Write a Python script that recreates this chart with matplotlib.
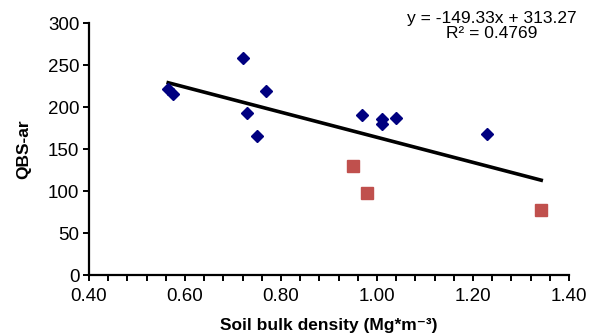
import matplotlib
matplotlib.use('Agg')
import matplotlib.pyplot as plt
import numpy as np
from matplotlib.ticker import MultipleLocator

plt.rcParams['font.family'] = ['Liberation Sans', 'DejaVu Sans']

# QBS-ar against soil bulk density
blue_x = [0.565, 0.576, 0.72, 0.769, 0.73, 0.749, 0.969, 1.01, 1.01, 1.04, 1.229]
blue_y = [221, 216, 258, 219, 193, 166, 190, 186, 180, 187, 168]
red_x = [0.95, 0.979, 1.342]
red_y = [130, 98, 77]

slope = -149.33
intercept = 313.27
r2 = 0.4769

fig = plt.figure(figsize=(5.99, 3.36), dpi=100)
ax = fig.add_axes([0.1486, 0.1815, 0.8014, 0.75])

ax.plot(blue_x, blue_y, 'D', color='#000080', markersize=6.5, zorder=3)
ax.plot(red_x, red_y, 's', color='#C0504D', markersize=9, zorder=3)

# linear trend line over the full x range
all_x = blue_x + red_x
xs = np.array([min(all_x), max(all_x)])
ax.plot(xs, slope * xs + intercept, color='black', linewidth=2.6, zorder=2)

ax.set_xlim(0.40, 1.40)
ax.set_ylim(0, 300)
ax.xaxis.set_major_locator(MultipleLocator(0.2))
ax.xaxis.set_minor_locator(MultipleLocator(0.04))
ax.yaxis.set_major_locator(MultipleLocator(50))
ax.xaxis.set_major_formatter(plt.FuncFormatter(lambda v, p: f"{v:.2f}"))

for s in ['top', 'right']:
    ax.spines[s].set_visible(False)
for s in ['left', 'bottom']:
    ax.spines[s].set_linewidth(1.6)

ax.tick_params(axis='both', which='both', direction='out', length=4, width=1.4,
               labelsize=13.5, colors='black')
ax.tick_params(axis='x', pad=5)
ax.tick_params(axis='y', pad=3)

ax.set_xlabel('Soil bulk density (Mg*m⁻³)', fontsize=12.5,
              fontweight='bold', labelpad=10)
ax.set_ylabel('QBS-ar', fontsize=12.5, fontweight='bold', labelpad=12)

fig.text(492 / 599, 1 - 18 / 336, f"y = {slope:.2f}x + {intercept:.2f}",
         ha='center', va='center', fontsize=12.5)
fig.text(492 / 599, 1 - 33 / 336, f"R² = {r2:.4f}",
         ha='center', va='center', fontsize=12.5)

fig.savefig('out.png', dpi=100)
